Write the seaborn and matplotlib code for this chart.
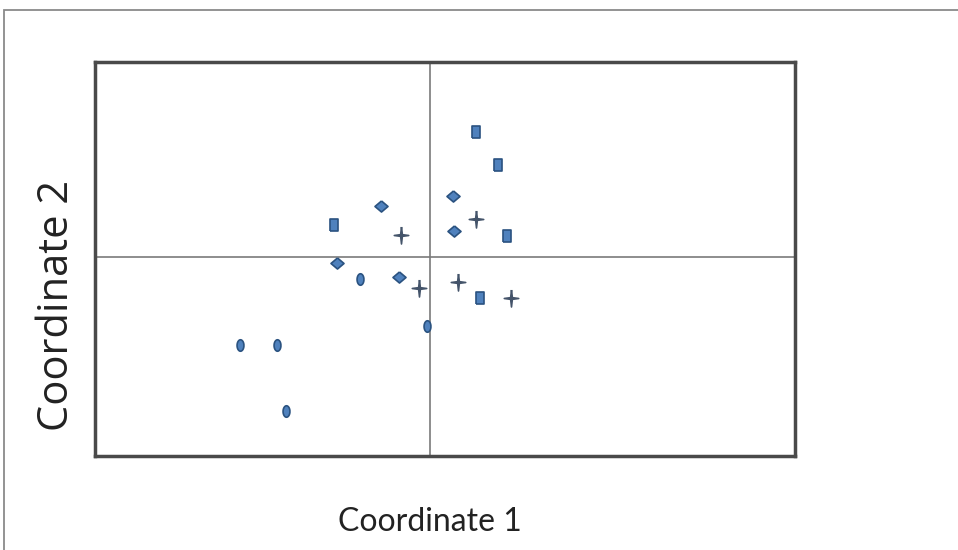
import numpy as np
import pandas as pd
import matplotlib
matplotlib.use("Agg")
import matplotlib.pyplot as plt
import matplotlib.patches as mpatches
import seaborn as sns

# pontos (coordenadas 1 e 2), por grupo
grupo_a_x = [-1.90, -1.53, -1.44, -0.70, -0.03]
grupo_a_y = [-0.88, -0.88, -1.54, -0.22, -0.69]
grupo_b_x = [-0.96, 0.46, 0.68, 0.77, 0.50]
grupo_b_y = [0.32, 1.25, 0.92, 0.21, -0.41]
grupo_c_x = [-0.49, 0.23, 0.24, -0.93, -0.31]
grupo_c_y = [0.51, 0.61, 0.26, -0.06, -0.20]
grupo_d_x = [-0.29, 0.46, -0.11, 0.28, 0.81]
grupo_d_y = [0.22, 0.38, -0.31, -0.25, -0.41]
grupos = ["A", "B", "C", "D"]

df = pd.concat([
    pd.DataFrame({"x": grupo_a_x, "y": grupo_a_y, "grupo": "A"}),
    pd.DataFrame({"x": grupo_b_x, "y": grupo_b_y, "grupo": "B"}),
    pd.DataFrame({"x": grupo_c_x, "y": grupo_c_y, "grupo": "C"}),
    pd.DataFrame({"x": grupo_d_x, "y": grupo_d_y, "grupo": "D"}),
], ignore_index=True)

# marcadores personalizados
t = np.linspace(0, 2 * np.pi, 40)
elipse = list(zip(0.6 * np.cos(t), np.sin(t)))
retangulo = [(-0.72, -1), (0.72, -1), (0.72, 1), (-0.72, 1), (-0.72, -1)]
losango = [(0, 0.85), (1, 0), (0, -0.85), (-1, 0), (0, 0.85)]
k = 0.1
estrela = [(0, 1), (k, k), (0.85, 0), (k, -k), (0, -1), (-k, -k), (-0.85, 0), (-k, k), (0, 1)]
marcadores = {"A": elipse, "B": retangulo, "C": losango, "D": estrela}
cores = {"A": "#4f81bd", "B": "#4f81bd", "C": "#4f81bd", "D": "#44546a"}
tamanhos = {"A": 68, "B": 72, "C": 88, "D": 150}

sns.set_style("white")
fig = plt.figure(figsize=(9.58, 5.5), dpi=100)
ax = fig.add_axes([0.0992, 0.171, 0.7308, 0.716])

for g in grupos:
    sns.scatterplot(data=df[df["grupo"] == g], x="x", y="y", marker=marcadores[g],
                    color=cores[g], edgecolor="#2a5280" if g != "D" else "#44546a",
                    linewidth=1.2, s=tamanhos[g], ax=ax, legend=False, zorder=3)

ax.axhline(0, color="#7a7a7a", lw=1.2, zorder=1)
ax.axvline(0, color="#7a7a7a", lw=1.2, zorder=1)
ax.set_xlim(-3.35, 3.65)
ax.set_ylim(-1.99, 1.95)
ax.set_xticks([])
ax.set_yticks([])
for sp in ax.spines.values():
    sp.set_color("#4a4a4a")
    sp.set_linewidth(2.5)

ax.set_xlabel("")
ax.set_ylabel("")
fig.text(0.449, 0.051, "Coordinate 1", family="Lato", fontsize=23, color="#222222",
         ha="center", va="center")
fig.text(0.059, 0.445, "Coordinate 2", family="Open Sans", fontsize=30, color="#222222",
         ha="center", va="center", rotation=90)

# moldura externa (topo e esquerda)
fig.add_artist(mpatches.Rectangle((4 / 958, -0.2), 1.2, 1.2 - 10 / 550,
                                  transform=fig.transFigure, fill=False,
                                  edgecolor="#8a8a8a", lw=1.3, clip_on=False))

fig.savefig("out.png", dpi=100)
